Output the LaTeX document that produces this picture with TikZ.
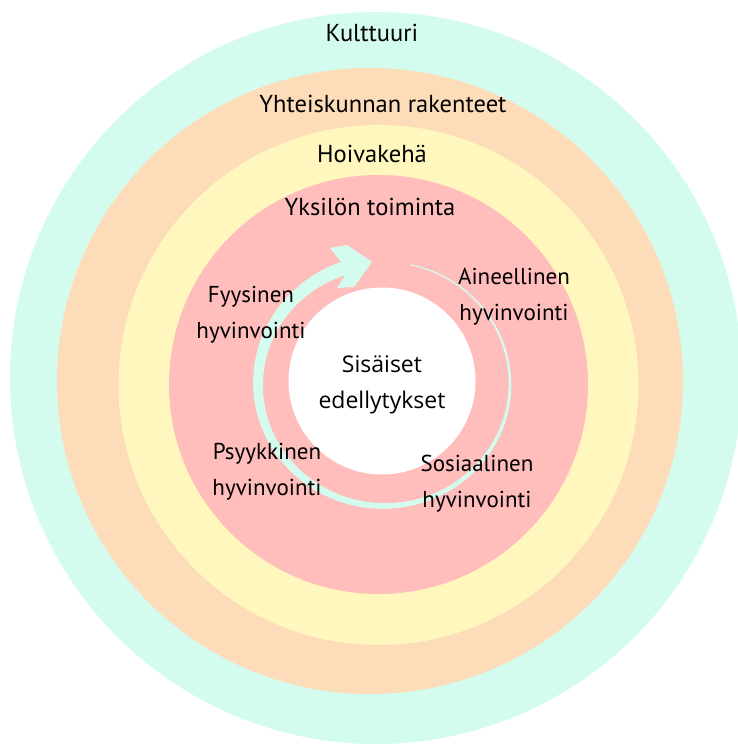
\documentclass[tikz,border=0pt]{standalone}
\usepackage{fontspec}
\setmainfont{PT Sans}
\newfontfamily\corefont{Open Sans}
\usepackage{tikz}
\usetikzlibrary{positioning}

\definecolor{mint}{HTML}{D4FCEE}
\definecolor{peach}{HTML}{FDDCBA}
\definecolor{butter}{HTML}{FFF7BD}
\definecolor{rose}{HTML}{FFBDBC}

\tikzset{
    ringlabel/.style={font=\fontsize{24.5}{36}\selectfont, text=black, inner sep=0pt},
    wellbeing/.style={font=\fontsize{23}{36}\selectfont, text=black, align=center, inner sep=0pt},
    corelabel/.style={font=\corefont\fontsize{23}{36}\selectfont, text=black, align=center, inner sep=0pt},
    declare function={wid(\t)=1+5*\t+8*\t*\t;}
}

\begin{document}
\begin{tikzpicture}[x=1pt, y=1pt]
\useasboundingbox (0,0) rectangle (738,745);
\clip (0,0) rectangle (738,745);
% Rings, outermost first
\def\ring#1#2#3#4{
    % #1 = x of centre, #2 = y of centre, #3 = radius, #4 = colour
    \fill[#4] (#1, #2) circle[radius=#3];
}
\ring{376}{367}{366}{mint}
\ring{370}{364}{313}{peach}
\ring{378.5}{360}{260}{butter}
\ring{378.5}{360.5}{209.5}{rose}
\ring{382}{364}{93.5}{white}

% Tapering arrow round the core
\fill[mint] plot[domain=78:-251, samples=120]
        ({384+(126+0.5*wid((78-\x)/329))*cos(\x)}, {361+(122+0.5*wid((78-\x)/329))*sin(\x)})
    -- plot[domain=-251:78, samples=120]
        ({384+(126-0.5*wid((78-\x)/329))*cos(\x)}, {361+(122-0.5*wid((78-\x)/329))*sin(\x)})
    -- cycle;
\fill[mint] (341,483) -- (330,497) -- (347,500) -- (372,483) -- (354,458) -- (337,457) -- (345,470) -- cycle;

% Ring labels
\node[ringlabel] (culture) at (372, 712) {Kulttuuri};
\node[ringlabel] (society) at (383, 641) {Yhteiskunnan rakenteet};
\node[ringlabel] (care) at (372, 591) {Hoivakehä};
\node[ringlabel] (action) at (370, 538) {Yksilön toiminta};

% Wellbeing labels
\node[wellbeing] (physical) at (251, 430) {Fyysinen\\hyvinvointi};
\node[wellbeing] (material) at (514, 448) {Aineellinen\\hyvinvointi};
\node[wellbeing] (mental) at (267, 273) {Psyykkinen\\hyvinvointi};
\node[wellbeing] (social) at (477, 261) {Sosiaalinen\\hyvinvointi};

% Core
\node[corelabel] (core) at (382, 360) {Sisäiset\\edellytykset};
\end{tikzpicture}
\end{document}
